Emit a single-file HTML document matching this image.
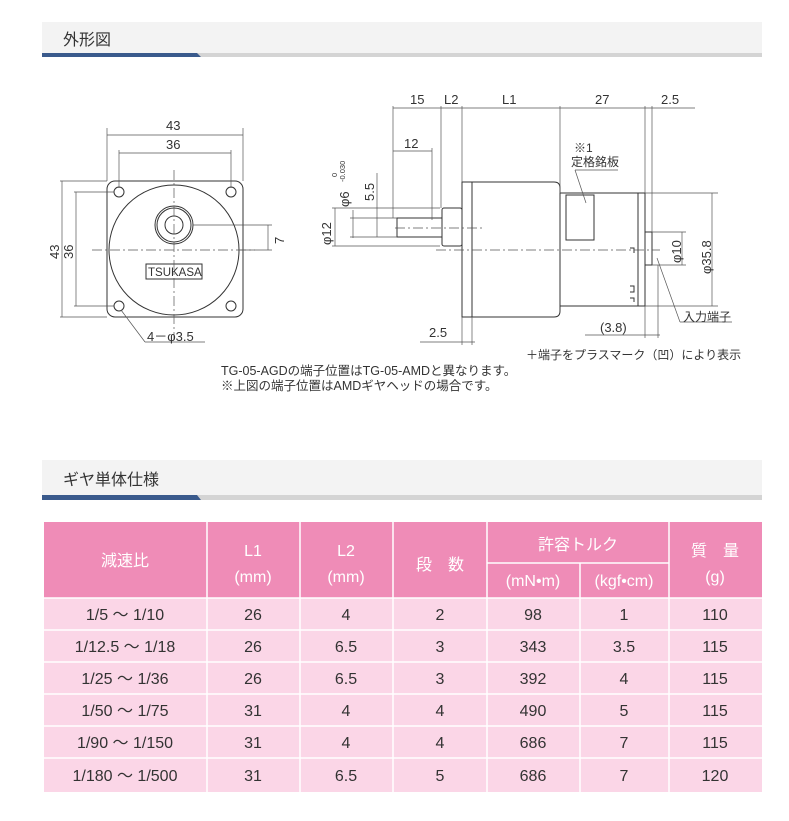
<!DOCTYPE html>
<html><head><meta charset="utf-8"><style>
body{margin:0;background:#fff;width:789px;height:821px;overflow:hidden;font-family:"Liberation Sans","Noto Sans CJK JP",sans-serif}
svg{position:absolute;left:0;top:0}
</style></head><body>
<svg width="789" height="821" viewBox="0 0 789 821" font-family="Liberation Sans, Noto Sans CJK JP, sans-serif">
<rect x="42" y="22" width="720" height="32" fill="#f3f3f3"/>
<rect x="42" y="53" width="720" height="4" fill="#d4d4d4"/>
<polygon points="42,53 197,53 201,57 42,57" fill="#3a5a8c"/>
<text x="63" y="45" font-size="16" fill="#333">外形図</text>
<rect x="42" y="460" width="720" height="36" fill="#f3f3f3"/>
<rect x="42" y="495" width="720" height="5" fill="#d4d4d4"/>
<polygon points="42,495 197,495 201,500 42,500" fill="#3a5a8c"/>
<text x="63" y="485" font-size="16" fill="#333">ギヤ単体仕様</text>

<g stroke="#333" fill="none" stroke-width="1">
<rect x="107" y="181" width="136" height="136" rx="8"/>
<circle cx="174" cy="250" r="65"/>
<circle cx="174" cy="225" r="19"/><circle cx="174" cy="225" r="17"/><circle cx="174" cy="225" r="9"/>
<circle cx="119" cy="192" r="5"/><circle cx="231" cy="192" r="5"/><circle cx="119" cy="306" r="5"/><circle cx="231" cy="306" r="5"/>
<rect x="146" y="264" width="56" height="15"/>
</g>
<g stroke="#555" stroke-width="0.7" fill="none">
<line x1="174" y1="170" x2="174" y2="340" stroke-dasharray="10,3,2,3"/>
<line x1="92" y1="250" x2="255" y2="250" stroke-dasharray="10,3,2,3"/>
<line x1="107" y1="128" x2="107" y2="181"/><line x1="243" y1="128" x2="243" y2="181"/>
<line x1="107" y1="135" x2="243" y2="135"/>
<line x1="119" y1="150" x2="119" y2="188"/><line x1="231" y1="150" x2="231" y2="188"/>
<line x1="119" y1="153" x2="231" y2="153"/>
<line x1="60" y1="181" x2="107" y2="181"/><line x1="60" y1="317" x2="107" y2="317"/>
<line x1="62" y1="181" x2="62" y2="317"/>
<line x1="74" y1="192" x2="114" y2="192"/><line x1="74" y1="306" x2="114" y2="306"/>
<line x1="76" y1="192" x2="76" y2="306"/>
<line x1="193" y1="225" x2="272" y2="225"/><line x1="240" y1="250" x2="272" y2="250"/>
<line x1="268" y1="225" x2="268" y2="250"/>
<line x1="121" y1="310" x2="145" y2="342"/><line x1="145" y1="342" x2="205" y2="342"/>
</g>
<g font-size="13" fill="#333">
<text x="166" y="130">43</text><text x="166" y="149">36</text>
<text transform="translate(284 244) rotate(-90)">7</text>
<text transform="translate(59 259) rotate(-90)">43</text>
<text transform="translate(73 259) rotate(-90)">36</text>
<text x="147" y="341">4－φ3.5</text>
<text x="148" y="276" font-size="11.5">TSUKASA</text>
</g>

<g stroke="#333" fill="none" stroke-width="1">
<rect x="462" y="182" width="10" height="135"/>
<path d="M472,182 H554 Q560,182 560,188 V311 Q560,317 554,317 H472"/>
<rect x="560" y="193" width="85" height="113"/>
<rect x="566" y="195" width="28" height="45"/>
<line x1="638" y1="193" x2="638" y2="306"/>
<rect x="442" y="208" width="20" height="38" rx="2"/>
<path d="M442,218 H397 V237 H442"/>
<path d="M645,232 H652 V265 H645"/>
<path d="M630,248 H634 V253 M630,286 H634 V292 H630 M630,298 H634 V302"/>
</g>
<g stroke="#555" stroke-width="0.7" fill="none">
<line x1="395" y1="228" x2="485" y2="228" stroke-dasharray="10,3,2,3"/>
<line x1="436" y1="250" x2="660" y2="250" stroke-dasharray="10,3,2,3"/>
<line x1="393" y1="106" x2="393" y2="218"/><line x1="441" y1="106" x2="441" y2="208"/>
<line x1="462" y1="106" x2="462" y2="182"/><line x1="560" y1="106" x2="560" y2="193"/>
<line x1="645" y1="106" x2="645" y2="193"/><line x1="652" y1="106" x2="652" y2="232"/>
<line x1="393" y1="108" x2="695" y2="108"/>
<line x1="393" y1="151" x2="432" y2="151"/><line x1="432" y1="148" x2="432" y2="220"/>
<line x1="332" y1="208" x2="440" y2="208"/><line x1="332" y1="246" x2="440" y2="246"/>
<line x1="335" y1="208" x2="335" y2="246"/>
<line x1="350" y1="218" x2="397" y2="218"/><line x1="350" y1="237" x2="397" y2="237"/>
<line x1="353" y1="210" x2="353" y2="238"/><line x1="377" y1="173" x2="377" y2="237"/>
<line x1="645" y1="193" x2="718" y2="193"/><line x1="645" y1="306" x2="718" y2="306"/>
<line x1="712" y1="193" x2="712" y2="306"/>
<line x1="652" y1="232" x2="686" y2="232"/><line x1="652" y1="265" x2="686" y2="265"/>
<line x1="682" y1="232" x2="682" y2="265"/>
<line x1="462" y1="317" x2="462" y2="345"/><line x1="472" y1="317" x2="472" y2="345"/>
<line x1="420" y1="342" x2="475" y2="342"/>
<line x1="645" y1="306" x2="645" y2="338"/><line x1="658" y1="265" x2="658" y2="338"/>
<line x1="585" y1="335" x2="660" y2="335"/>
<line x1="575" y1="170" x2="618" y2="170"/><line x1="575" y1="170" x2="586" y2="203"/>
<line x1="657" y1="258" x2="680" y2="322"/><line x1="680" y1="322" x2="732" y2="322"/>
</g>
<g font-size="13" fill="#333">
<text x="410" y="104">15</text><text x="444" y="104">L2</text><text x="502" y="104">L1</text>
<text x="595" y="104">27</text><text x="661" y="104">2.5</text>
<text x="404" y="148">12</text>
<text x="574" y="152" font-size="12">※1</text><text x="571" y="166" font-size="12">定格銘板</text>
<text transform="translate(374 201) rotate(-90)">5.5</text>
<text transform="translate(349 207) rotate(-90)">φ6</text>
<text transform="translate(345 182) rotate(-90)" font-size="7.5">-0.030</text>
<text transform="translate(337 177) rotate(-90)" font-size="7.5">0</text>
<text transform="translate(331 245) rotate(-90)">φ12</text>
<text transform="translate(681 263) rotate(-90)">φ10</text>
<text transform="translate(711 274) rotate(-90)">φ35.8</text>
<text x="429" y="337">2.5</text><text x="600" y="332">(3.8)</text>
<text x="683" y="321" font-size="12">入力端子</text>
<text x="526" y="359" font-size="12">＋端子をプラスマーク（凹）により表示</text>
<text x="221" y="375" font-size="12.5">TG-05-AGDの端子位置はTG-05-AMDと異なります。</text>
<text x="221" y="390" font-size="12.5">※上図の端子位置はAMDギヤヘッドの場合です。</text>
</g>

<rect x="44" y="522" width="718" height="270" fill="#fbd6e7"/>
<rect x="44" y="522" width="718" height="76" fill="#ef8cb7"/>
<g stroke="#fff" stroke-width="1.5">
<line x1="207" y1="522" x2="207" y2="792"/><line x1="300" y1="522" x2="300" y2="792"/>
<line x1="393" y1="522" x2="393" y2="792"/><line x1="487" y1="522" x2="487" y2="792"/>
<line x1="580" y1="563" x2="580" y2="792"/><line x1="669" y1="522" x2="669" y2="792"/>
<line x1="487" y1="563" x2="669" y2="563"/>
<line x1="44" y1="598" x2="762" y2="598"/><line x1="44" y1="630" x2="762" y2="630"/>
<line x1="44" y1="662" x2="762" y2="662"/><line x1="44" y1="694" x2="762" y2="694"/>
<line x1="44" y1="726" x2="762" y2="726"/><line x1="44" y1="758" x2="762" y2="758"/>
</g>
<g font-size="16" fill="#fff" text-anchor="middle">
<text x="125" y="566">減速比</text>
<text x="253" y="556">L1</text><text x="253" y="582">(mm)</text>
<text x="346" y="556">L2</text><text x="346" y="582">(mm)</text>
<text x="440" y="570">段　数</text>
<text x="578" y="550">許容トルク</text>
<text x="533" y="586">(mN•m)</text><text x="624" y="586">(kgf•cm)</text>
<text x="715" y="556">質　量</text><text x="715" y="582">(g)</text>
</g>
<g font-size="16" fill="#333" text-anchor="middle">
<text x="125" y="620">1/5 ～ 1/10</text><text x="253" y="620">26</text><text x="346" y="620">4</text><text x="440" y="620">2</text><text x="533" y="620">98</text><text x="624" y="620">1</text><text x="715" y="620">110</text>
<text x="125" y="652">1/12.5 ～ 1/18</text><text x="253" y="652">26</text><text x="346" y="652">6.5</text><text x="440" y="652">3</text><text x="533" y="652">343</text><text x="624" y="652">3.5</text><text x="715" y="652">115</text>
<text x="125" y="684">1/25 ～ 1/36</text><text x="253" y="684">26</text><text x="346" y="684">6.5</text><text x="440" y="684">3</text><text x="533" y="684">392</text><text x="624" y="684">4</text><text x="715" y="684">115</text>
<text x="125" y="716">1/50 ～ 1/75</text><text x="253" y="716">31</text><text x="346" y="716">4</text><text x="440" y="716">4</text><text x="533" y="716">490</text><text x="624" y="716">5</text><text x="715" y="716">115</text>
<text x="125" y="748">1/90 ～ 1/150</text><text x="253" y="748">31</text><text x="346" y="748">4</text><text x="440" y="748">4</text><text x="533" y="748">686</text><text x="624" y="748">7</text><text x="715" y="748">115</text>
<text x="125" y="781">1/180 ～ 1/500</text><text x="253" y="781">31</text><text x="346" y="781">6.5</text><text x="440" y="781">5</text><text x="533" y="781">686</text><text x="624" y="781">7</text><text x="715" y="781">120</text>
</g>
</svg>
</body></html>
